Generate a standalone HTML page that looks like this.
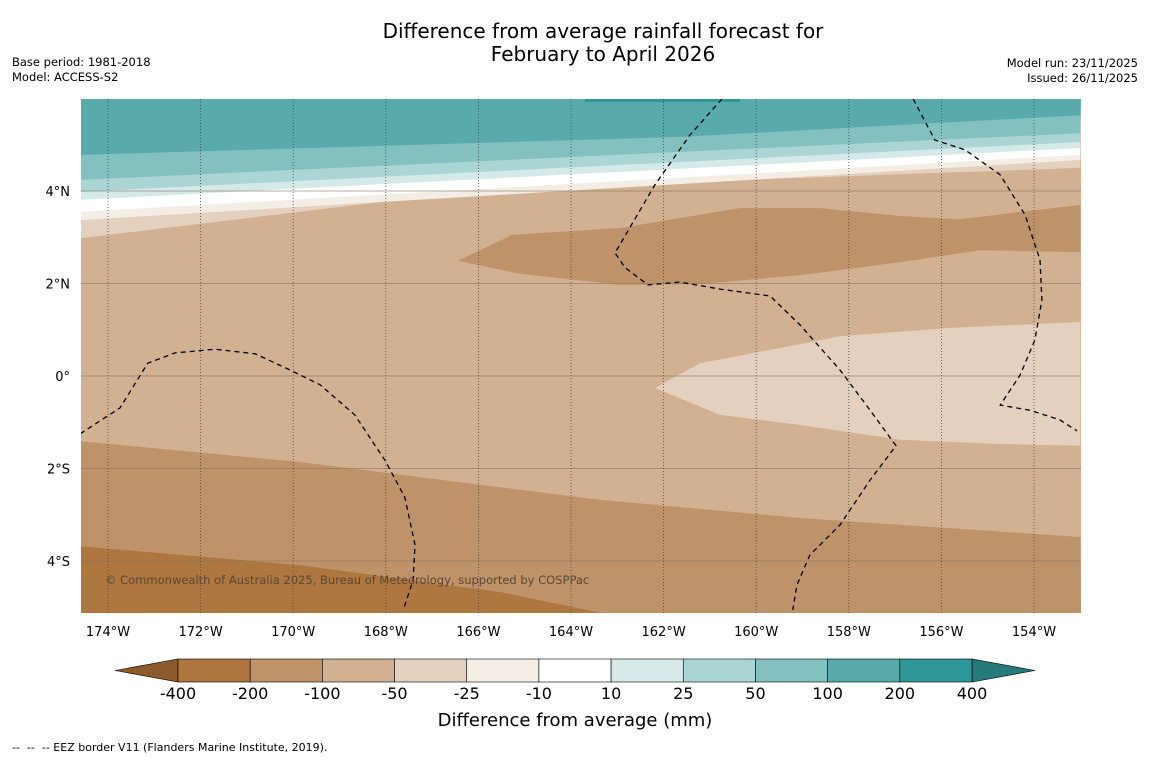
<!DOCTYPE html>
<html><head><meta charset="utf-8"><style>
body{margin:0;background:#fff;font-family:"Liberation Sans","DejaVu Sans",sans-serif;}
svg text{font-family:"DejaVu Sans","Liberation Sans",sans-serif;}
</style></head><body>
<svg id="c" width="1150" height="758" viewBox="0 0 1150 758">
<rect width="1150" height="758" fill="#fff"/>
<text x="603" y="38" font-size="20" text-anchor="middle">Difference from average rainfall forecast for</text>
<text x="603" y="61" font-size="20" text-anchor="middle">February to April 2026</text>
<text x="12" y="66" font-size="11.5">Base period: 1981-2018</text>
<text x="12" y="81" font-size="11.5">Model: ACCESS-S2</text>
<text x="1138" y="67" font-size="11.5" text-anchor="end">Model run: 23/11/2025</text>
<text x="1138" y="82" font-size="11.5" text-anchor="end">Issued: 26/11/2025</text>
<g id="map"></g>
<g id="cb"></g>
<text x="575" y="726" font-size="18" text-anchor="middle">Difference from average (mm)</text>
<text x="12" y="751" font-size="11" xml:space="preserve">--  --  -- EEZ border V11 (Flanders Marine Institute, 2019).</text>
</svg>
<script>
const lonTicks=[-174,-172,-170,-168,-166,-164,-162,-160,-158,-156,-154];
const lonLabels=["174°W","172°W","170°W","168°W","166°W","164°W","162°W","160°W","158°W","156°W","154°W"];
const latTicks=[4,2,0,-2,-4];
const latLabels=["4°N","2°N","0°","2°S","4°S"];
const cbLevels=["-400","-200","-100","-50","-25","-10","10","25","50","100","200","400"];
const cbColors=["#ad773f","#bf936a","#d2b092","#e3d0bf","#f3ede6","#ffffff","#d5eae8","#aad5d4","#83c0c0","#58aaab","#2f9697"];
const northBands=[
 {c:"#e3d0bf",pts:[[-174.6,2.98],[-167.7,3.81],[-160.35,4.24],[-153,4.5]]},
 {c:"#f3ede6",pts:[[-174.6,3.37],[-153,4.67]]},
 {c:"#ffffff",pts:[[-174.6,3.55],[-153,4.78]]},
 {c:"#d5eae8",pts:[[-174.6,3.81],[-153,4.93]]},
 {c:"#aad5d4",pts:[[-174.6,3.98],[-153,5.06]]},
 {c:"#83c0c0",pts:[[-174.6,4.24],[-153,5.25]]},
 {c:"#58aaab",pts:[[-174.6,4.78],[-161.65,5.17],[-153,5.64]]}
];
const midBand=[[-166.44,2.49],[-165.27,3.05],[-162.94,3.2],[-160.35,3.63],[-158.62,3.63],[-156.89,3.46],[-155.6,3.39],[-153,3.7],[-153,2.68],[-155.17,2.72],[-156.89,2.46],[-159.05,2.18],[-161.21,1.99],[-162.94,1.97],[-165.1,2.21]];
const lightPatch=[[-162.19,-0.26],[-161.21,0.28],[-159.92,0.52],[-158.19,0.86],[-155.81,1.04],[-153,1.17],[-153,-1.51],[-154.73,-1.47],[-156.89,-1.38],[-159.05,-1.06],[-160.78,-0.84]];
const southBand=[[-174.6,-1.41],[-169.85,-1.86],[-163.37,-2.68],[-159.05,-3.07],[-153,-3.48]];
const southDeep=[[-174.6,-3.68],[-169.85,-4.09],[-165.53,-4.67],[-163.37,-5.12]];
const eez1=[[-174.6,-1.25],[-173.74,-0.69],[-173.14,0.28],[-172.55,0.5],[-171.69,0.58],[-170.82,0.48],[-170.07,0.13],[-169.42,-0.19],[-168.67,-0.84],[-168.02,-1.82],[-167.59,-2.62],[-167.37,-3.65],[-167.41,-4.41],[-167.61,-5.02]];
const eez2=[[-160.74,5.99],[-161.43,5.21],[-162.19,4.13],[-163.05,2.66],[-162.83,2.34],[-162.34,1.97],[-161.65,2.03],[-160.78,1.88],[-159.7,1.73],[-159.05,1.1],[-158.19,0.13],[-157.54,-0.74],[-156.98,-1.51],[-157.54,-2.25],[-158.19,-3.22],[-158.84,-3.87],[-159.12,-4.52],[-159.21,-5.06]];
const eez3=[[-156.61,5.99],[-156.14,5.1],[-155.49,4.89],[-154.73,4.35],[-154.19,3.48],[-153.87,2.51],[-153.83,1.64],[-153.98,0.78],[-154.3,0.02],[-154.73,-0.63],[-154.09,-0.74],[-153.44,-0.95],[-153.07,-1.19]];

const X=lon=>108+(lon+174)*46.3;
const Y=lat=>376-lat*46.25;
const NS="http://www.w3.org/2000/svg";
const map=document.getElementById('map');
function mk(tag,attrs,parent){const e=document.createElementNS(NS,tag);for(const k in attrs)e.setAttribute(k,attrs[k]);parent.appendChild(e);return e;}
const L=81,R=1081,T=99,B=613;
const cp=mk('clipPath',{id:'mc'},map);mk('rect',{x:L,y:T,width:R-L,height:B-T},cp);
const g=mk('g',{'clip-path':'url(#mc)'},map);
const bg=mk('rect',{x:L,y:T,width:R-L,height:B-T,fill:'#d2b092'},g);


const P=a=>a.map(p=>X(p[0]).toFixed(1)+','+Y(p[1]).toFixed(1)).join(' ');
northBands.forEach((b,i)=>{
 const pts=P(b.pts)+` ${R},${T} ${L},${T}`;
 const e=mk('polygon',{points:pts,fill:b.c},g);
 
 
});
let e=mk('polygon',{points:P(midBand),fill:'#bf936a'},g);


e=mk('polygon',{points:P(lightPatch),fill:'#e3d0bf'},g);


e=mk('polygon',{points:P(southBand)+` ${R},${B} ${L},${B}`,fill:'#bf936a'},g);


e=mk('polygon',{points:P(southDeep)+` ${L},${B}`,fill:'#ad773f'},g);


mk('rect',{x:585,y:T,width:155,height:3,fill:'#2f9697'},g);
latTicks.forEach((t,i)=>{
 const l=mk('line',{x1:L,x2:R,y1:Y(t),y2:Y(t),stroke:'#8a7560','stroke-width':0.8,opacity:0.8},g);
 
 
 const tx=mk('text',{x:70,y:Y(t)+5,'font-size':13,'text-anchor':'end'},map);tx.textContent=latLabels[i];
 
 
});
lonTicks.forEach((t,i)=>{
 const l=mk('line',{x1:X(t),x2:X(t),y1:T,y2:B,stroke:'#444','stroke-width':0.8,'stroke-dasharray':'1,2'},g);
 
 
 const tx=mk('text',{x:X(t),y:636,'font-size':13,'text-anchor':'middle'},map);tx.textContent=lonLabels[i];
 
 
});
[eez1,eez2,eez3].forEach((a,i)=>{
 const l=mk('polyline',{points:P(a),fill:'none',stroke:'#000','stroke-width':1.3,'stroke-dasharray':'5,4'},g);
 
 
});
e=mk('text',{x:105,y:584,'font-size':11.5,fill:'#5a4632'},map);e.textContent='© Commonwealth of Australia 2025, Bureau of Meteorology, supported by COSPPac';


const cb=document.getElementById('cb');
const cx0=178,cw=(972-178)/cbColors.length,cy=659,ch=23;
e=mk('polygon',{points:`115,670.5 ${cx0},${cy} ${cx0},${cy+ch}`,fill:'#8c5a2b',stroke:'#000','stroke-width':0.6},cb);


e=mk('polygon',{points:`1035,670.5 972,${cy} 972,${cy+ch}`,fill:'#267a7a',stroke:'#000','stroke-width':0.6},cb);


cbColors.forEach((c,i)=>{
 const r=mk('rect',{x:cx0+i*cw,y:cy,width:cw,height:ch,fill:c,stroke:'#000','stroke-width':0.6},cb);
 
 
});
cbLevels.forEach((s,i)=>{
 const t=mk('text',{x:cx0+i*cw,y:699,'font-size':16,'text-anchor':'middle'},cb);t.textContent=s;
 
 
});
</script>
</body></html>
